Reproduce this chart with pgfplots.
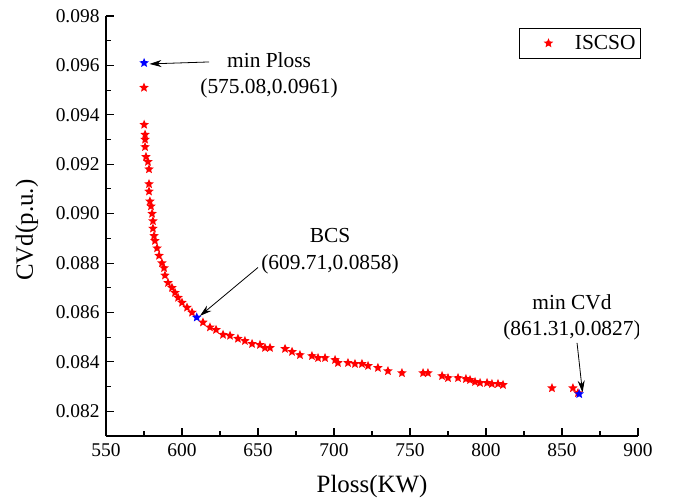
\documentclass[border=0pt]{standalone}
\usepackage{fontspec}
\setmainfont{Liberation Serif}
\usepackage{pgfplots}
\pgfplotsset{compat=1.18}
\usetikzlibrary{arrows.meta}

% filled five-pointed star
\pgfdeclareplotmark{fstar}{%
  \pgfpathmoveto{\pgfpointpolar{90}{\pgfplotmarksize}}%
  \pgfpathlineto{\pgfpointpolar{126}{0.45*\pgfplotmarksize}}%
  \pgfpathlineto{\pgfpointpolar{162}{\pgfplotmarksize}}%
  \pgfpathlineto{\pgfpointpolar{198}{0.45*\pgfplotmarksize}}%
  \pgfpathlineto{\pgfpointpolar{234}{\pgfplotmarksize}}%
  \pgfpathlineto{\pgfpointpolar{270}{0.45*\pgfplotmarksize}}%
  \pgfpathlineto{\pgfpointpolar{306}{\pgfplotmarksize}}%
  \pgfpathlineto{\pgfpointpolar{342}{0.45*\pgfplotmarksize}}%
  \pgfpathlineto{\pgfpointpolar{18}{\pgfplotmarksize}}%
  \pgfpathlineto{\pgfpointpolar{54}{0.45*\pgfplotmarksize}}%
  \pgfpathclose
  \pgfusepathqfill
}

\begin{document}
\begin{tikzpicture}
\useasboundingbox (-106bp,-63bp) rectangle (568bp,436bp);
\begin{axis}[
    at={(0,0)}, anchor=south west,
    scale only axis,
    width=532bp, height=420bp,
    xmin=550, xmax=900,
    ymin=0.081, ymax=0.098,
    xtick={550,600,...,900},
    ytick={0.082,0.084,...,0.0981},
    minor tick num=1,
    axis lines*=left,
    axis line style={line width=1.3bp},
    tick style={line width=1.1bp, black},
    major tick length=8.5bp,
    minor tick length=5bp,
    tick align=inside,
    /pgf/number format/assume math mode=true,
    yticklabel style={/pgf/number format/fixed, /pgf/number format/precision=3,
        /pgf/number format/fixed zerofill, xshift=-3bp},
    xticklabel style={yshift=-4bp},
    scaled y ticks=false,
    ticklabel style={font=\fontsize{19.5}{23}\selectfont},
    label style={font=\fontsize{25}{30}\selectfont},
    xlabel={Ploss(KW)},
    ylabel={CVd(p.u.)},
    xlabel style={at={(axis description cs:0.5,-0.12)}, anchor=center},
    ylabel style={at={(axis description cs:-0.1485,0.49)}, anchor=center},
    legend style={at={(rel axis cs:1.0056,0.9714)}, anchor=north east,
        draw=black, line width=0.8bp, font=\fontsize{21.5}{25}\selectfont,
        inner xsep=3bp, inner ysep=5bp},
]

% Pareto front (red)
\addplot[only marks, mark=fstar, mark size=5bp, color=red,
    legend image code/.code={\path (0bp,-5bp) (50bp,5bp);
        \draw[##1] plot coordinates {(26bp,0bp)};}] coordinates {
    (575.0,0.0951) (575.1,0.0936) (575.7,0.0932) (575.7,0.0930) (575.7,0.0927)
    (576.3,0.0923) (577.6,0.0921) (578.3,0.0918) (578.3,0.0912) (578.3,0.0909)
    (578.9,0.0905) (579.6,0.0903) (580.3,0.0900) (580.9,0.0897) (580.9,0.0894)
    (581.6,0.0891) (582.2,0.0889) (583.6,0.0886) (584.9,0.0883) (586.8,0.0880)
    (588.2,0.0878) (588.8,0.0875) (590.8,0.0872) (593.4,0.0870) (595.4,0.0868)
    (597.4,0.0866) (600.0,0.0864) (603.3,0.0862) (606.6,0.0860) (613.8,0.0856)
    (618.4,0.0854) (622.4,0.0853) (627.0,0.0851) (631.6,0.08506) (636.8,0.08494)
    (641.4,0.08485) (646.1,0.08473) (651.3,0.08469) (654.6,0.08457) (657.9,0.08457)
    (667.8,0.08453) (672.4,0.08441) (677.6,0.08428) (685.5,0.08424) (689.5,0.08416)
    (694.1,0.08416) (700.7,0.08408) (702.6,0.08396) (709.2,0.08396) (713.8,0.08392)
    (718.4,0.08392) (722.4,0.08384) (728.9,0.08376) (735.5,0.08363) (744.7,0.08355)
    (758.6,0.08355) (761.8,0.08355) (771.1,0.08343) (775.0,0.08335) (781.6,0.08335)
    (786.8,0.08331) (789.5,0.08327) (792.8,0.08319) (796.1,0.08315) (800.7,0.08315)
    (803.9,0.08311) (807.9,0.08311) (811.2,0.08307) (843.4,0.08294) (857.2,0.08294)
    (860.5,0.08274)
};
\addlegendentry{ISCSO}

% highlighted solutions (blue)
\addplot[only marks, mark=fstar, mark size=5bp, color=blue, forget plot] coordinates {
    (575.08,0.0961) (609.71,0.0858) (861.31,0.0827)
};

% annotations
\node[align=center, font=\fontsize{21.5}{26}\selectfont] at (axis cs:657.3,0.09561)
    {min Ploss\\(575.08,0.0961)};
\draw[line width=0.8bp, -{Stealth[length=12bp, width=7bp]}]
    (axis cs:617.8,0.09614) -- (axis cs:578.6,0.09606);

\node[align=center, font=\fontsize{21.5}{27}\selectfont] at (axis cs:697.4,0.08847)
    {BCS\\(609.71,0.0858)};
\draw[line width=0.8bp, -{Stealth[length=12bp, width=7bp]}]
    (axis cs:650.0,0.08782) -- (axis cs:611.8,0.08586);

\node[align=center, font=\fontsize{21.5}{26}\selectfont] at (axis cs:856.6,0.08579)
    {min CVd\\(861.31,0.0827)};
\draw[line width=0.8bp, -{Stealth[length=12bp, width=7bp]}]
    (axis cs:859.9,0.08477) -- (axis cs:863.5,0.08276);

\end{axis}
\end{tikzpicture}
\end{document}
